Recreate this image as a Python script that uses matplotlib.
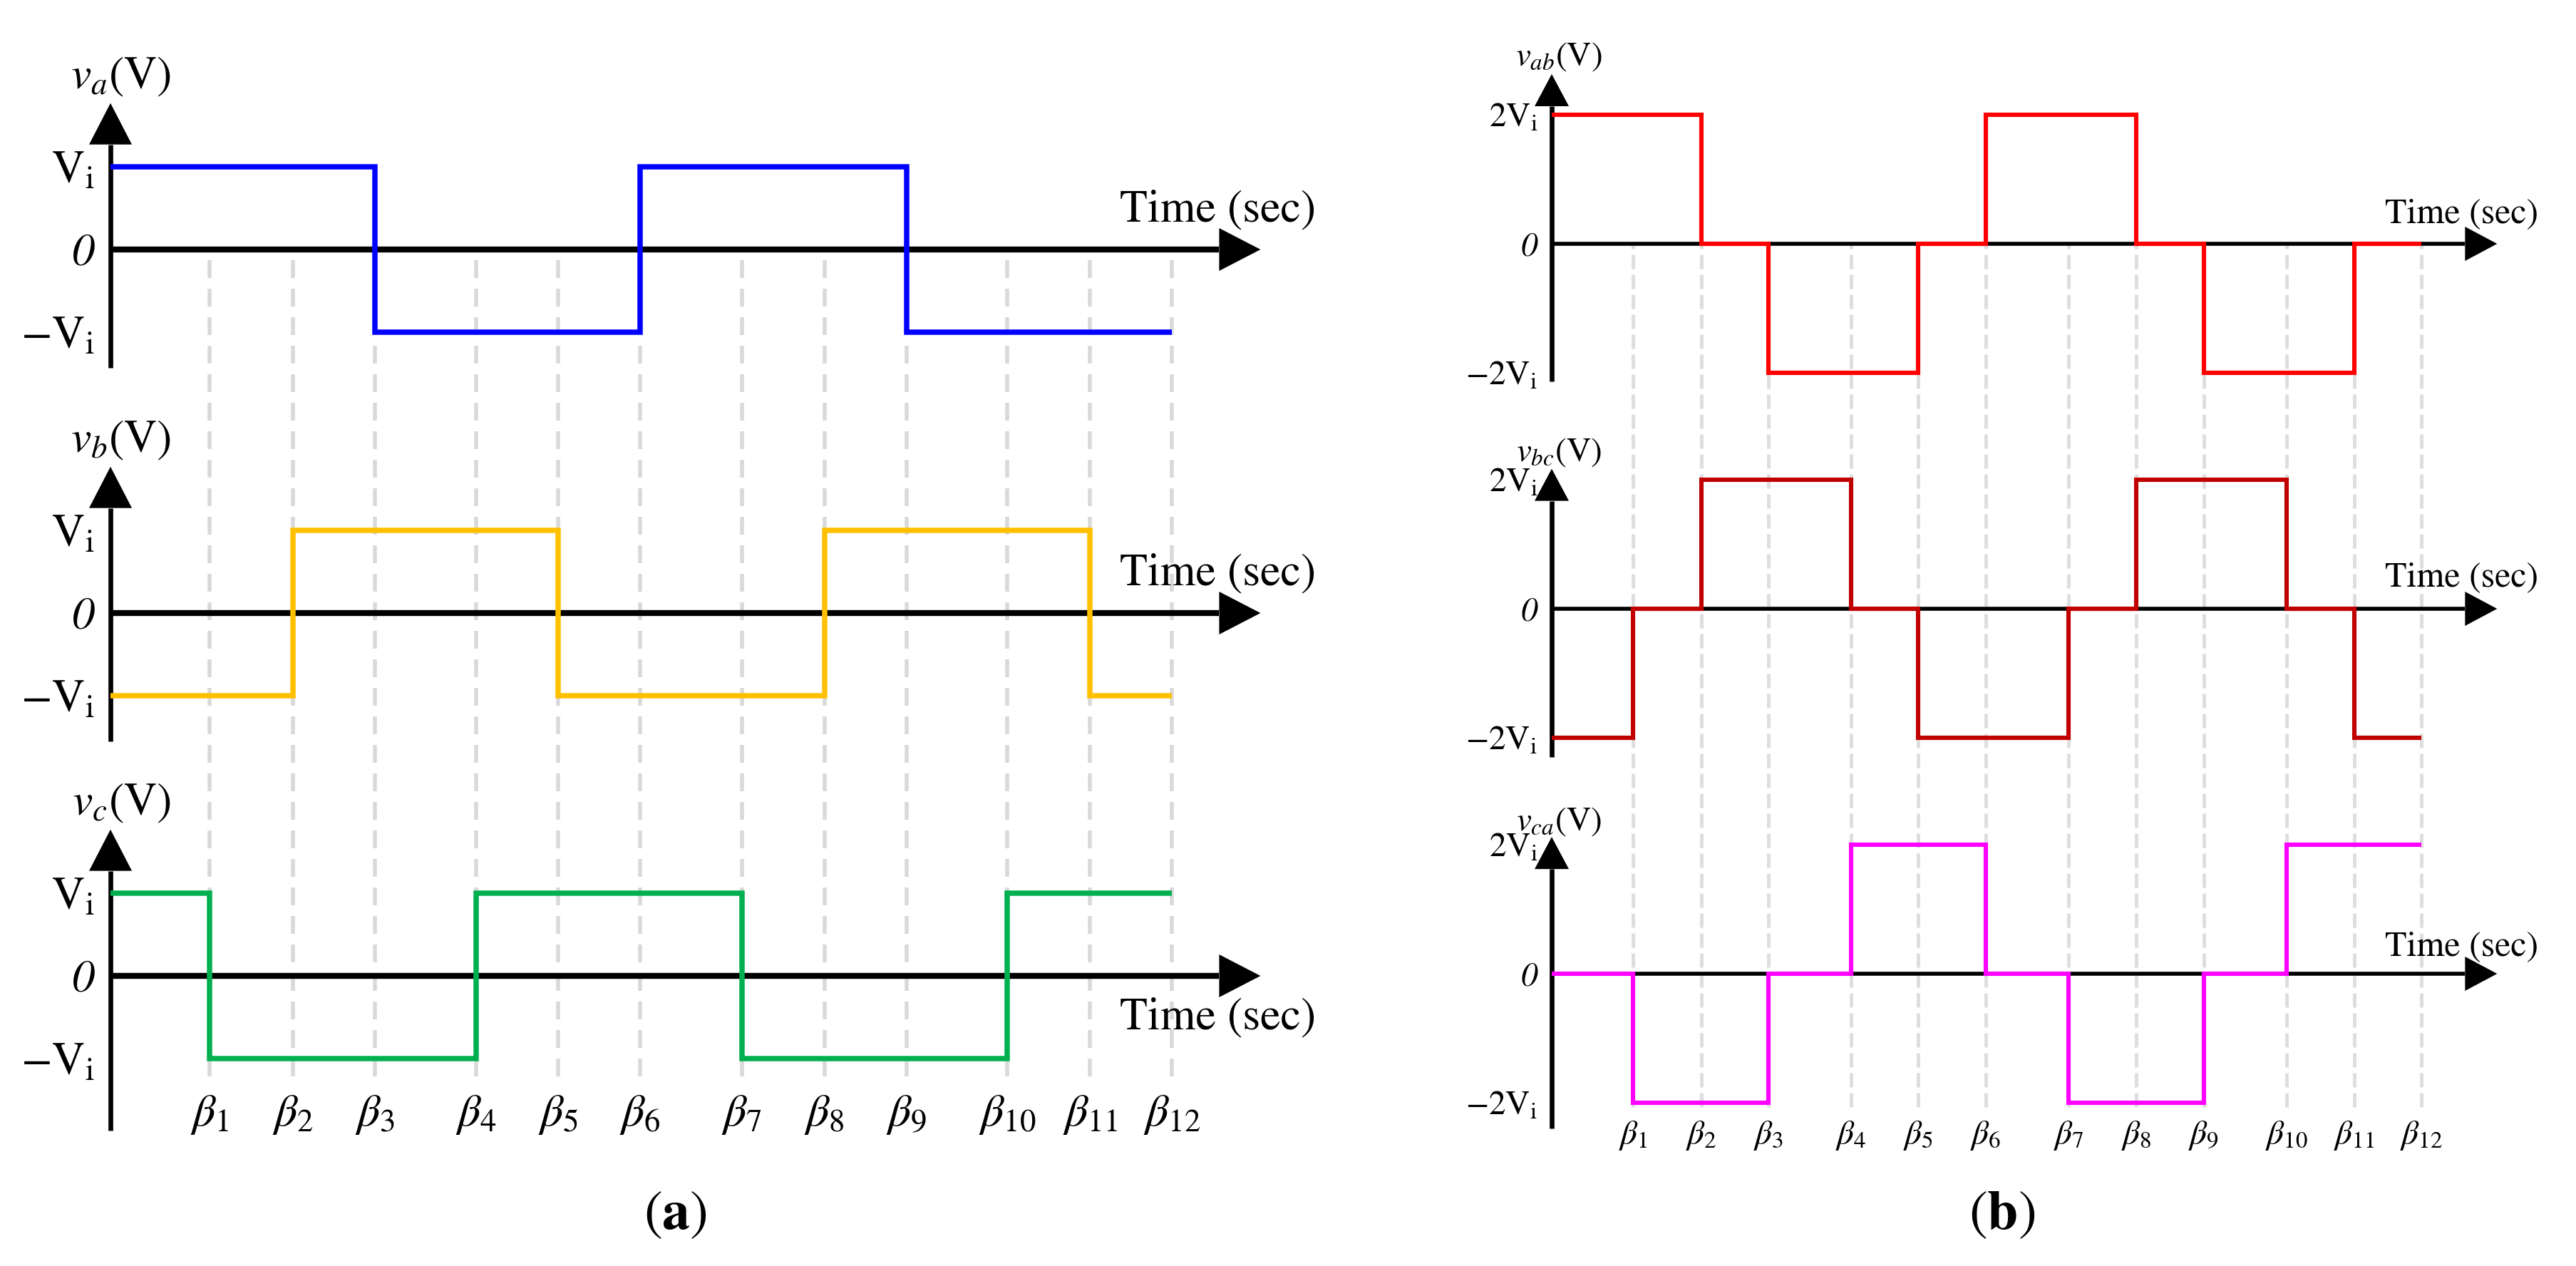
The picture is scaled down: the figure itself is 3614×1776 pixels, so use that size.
import matplotlib.pyplot as plt

plt.rcParams['font.family'] = 'STIXGeneral'
plt.rcParams['mathtext.fontset'] = 'stix'

W, H, DPI = 3614, 1776, 200

# switching instants (same pattern in both panels)
beta = [1.21, 2.23, 3.23, 4.46, 5.46, 6.46, 7.70, 8.71, 9.71, 10.94, 11.95, 12.95]
beta_labels = [r'$\beta_{%d}$' % i for i in range(1, 13)]
edges = [0] + beta

# phase voltages in units of Vi, one value per interval
va = [1, 1, 1, -1, -1, -1, 1, 1, 1, -1, -1, -1]
vb = [-1, -1, 1, 1, 1, -1, -1, -1, 1, 1, 1, -1]
vc = [1, -1, -1, -1, 1, 1, 1, -1, -1, -1, 1, 1]

# line voltages in units of Vi
vab = [2, 2, 0, -2, -2, 0, 2, 2, 0, -2, -2, 0]
vbc = [-2, 0, 2, 2, 0, -2, -2, 0, 2, 2, 0, -2]
vca = [0, -2, -2, 0, 2, 2, 0, -2, -2, 0, 2, 2]

phase_names = [r'$v_a$(V)', r'$v_b$(V)', r'$v_c$(V)']
line_names = [r'$v_{ab}$(V)', r'$v_{bc}$(V)', r'$v_{ca}$(V)']
phase_ticks = [r'$-\mathrm{V}_{\mathrm{i}}$', '0', r'$\mathrm{V}_{\mathrm{i}}$']
line_ticks = [r'$-2\mathrm{V}_{\mathrm{i}}$', '0', r'$2\mathrm{V}_{\mathrm{i}}$']

fig = plt.figure(figsize=(W / DPI, H / DPI), dpi=DPI)


def add_row(ox, oy, sx, sy, xlim, ylim):
    left = (ox + xlim[0] * sx) / W
    bottom = 1 - (oy - ylim[0] * sy) / H
    ax = fig.add_axes([left, bottom, (xlim[1] - xlim[0]) * sx / W, (ylim[1] - ylim[0]) * sy / H])
    ax.set_xlim(xlim)
    ax.set_ylim(ylim)
    ax.patch.set_visible(False)
    for s in ax.spines.values():
        s.set_visible(False)
    ax.tick_params(length=0)
    ax.set_xticks([])
    return ax


def draw_axes(ax, sx, sy, x_tip, y_tip, y_bot, head, lw_x, lw_y):
    hl, hw = head
    ax.plot([0, x_tip - hl / sx], [0, 0], color='black', lw=lw_x, solid_capstyle='butt', clip_on=False, zorder=3)
    ax.fill([x_tip, x_tip - hl / sx, x_tip - hl / sx], [0, hw / 2 / sy, -hw / 2 / sy],
            color='black', lw=0, clip_on=False, zorder=3)
    ax.plot([0, 0], [y_bot, y_tip - hl / sy], color='black', lw=lw_y, solid_capstyle='butt', clip_on=False, zorder=3)
    ax.fill([0, hw / 2 / sx, -hw / 2 / sx], [y_tip, y_tip - hl / sy, y_tip - hl / sy],
            color='black', lw=0, clip_on=False, zorder=3)


# ---------------- panel (a) ----------------
ox, sx, sy = 155, 115, 116
rows = [350, 860, 1369]
bots = [-1.43, -1.55, -1.87]
time_y = [0.47, 0.47, -0.51]
colors = ['#0000FF', '#FFC000', '#00B050']
for k, (oy, sig) in enumerate(zip(rows, [va, vb, vc])):
    ax = add_row(ox, oy, sx, sy, (0, 14.1), (-1.35, 1.8))
    if k == 0:
        ax.vlines(beta, (350 - 1510) / sy, 0, colors='#d9d9d9', lw=2.0,
                  linestyles=(0, (4.5, 2.7)), clip_on=False, zorder=0)
    draw_axes(ax, sx, sy, 14.03, 1.77, bots[k], (58, 60), 3.0, 2.4)
    ax.stairs(sig, edges, baseline=None, color=colors[k], lw=2.7, zorder=4, clip_on=False)
    ax.set_yticks([-1, 0, 1], phase_ticks, fontsize=23)
    ax.get_yticklabels()[1].set_fontstyle('italic')
    ax.tick_params(axis='y', pad=8)
    ax.text(0.13, 2.08, phase_names[k], fontsize=23, ha='center', va='center')
    ax.text(13.51, time_y[k], 'Time (sec)', fontsize=23, ha='center', va='center')
    if k == 2:
        ax.set_xticks(beta, beta_labels, fontsize=23)
        ax.tick_params(axis='x', pad=3)

# ---------------- panel (b) ----------------
ox, sx, sy = 2177, 94.2, 90.5
rows = [342, 854, 1366]
bots = [-2.13, -2.3, -2.4]
tips = [2.63, 2.17, 2.12]
name_y = [2.9, 2.42, 2.36]
time_y = [0.46, 0.48, 0.42]
colors = ['#FF0000', '#C00000', '#FF00FF']
for k, (oy, sig) in enumerate(zip(rows, [vab, vbc, vca])):
    ax = add_row(ox, oy, sx, sy, (0, 14.1), (-2.1, 2.7))
    if k == 0:
        ax.vlines(beta, (342 - 1553) / sy, 0, colors='#dedede', lw=1.8,
                  linestyles=(0, (4, 1.6)), clip_on=False, zorder=0)
    draw_axes(ax, sx, sy, 14.08, tips[k], bots[k], (45, 48), 2.0, 2.4)
    ax.stairs(sig, edges, baseline=None, color=colors[k], lw=2.2, zorder=4, clip_on=False)
    ax.set_yticks([-2, 0, 2], line_ticks, fontsize=17)
    ax.get_yticklabels()[1].set_fontstyle('italic')
    ax.tick_params(axis='y', pad=7)
    ax.text(0.1, name_y[k], line_names[k], fontsize=17, ha='center', va='center')
    ax.text(13.55, time_y[k], 'Time (sec)', fontsize=18, ha='center', va='center')
    if k == 2:
        ax.set_xticks(beta, beta_labels, fontsize=17)
        ax.tick_params(axis='x', pad=5)

fig.text(947 / W, 1 - 1706 / H, r'($\mathbf{a}$)', fontsize=28, ha='center', va='center')
fig.text(2809 / W, 1 - 1706 / H, r'($\mathbf{b}$)', fontsize=28, ha='center', va='center')

fig.savefig('out.png', dpi=DPI, facecolor='white')
